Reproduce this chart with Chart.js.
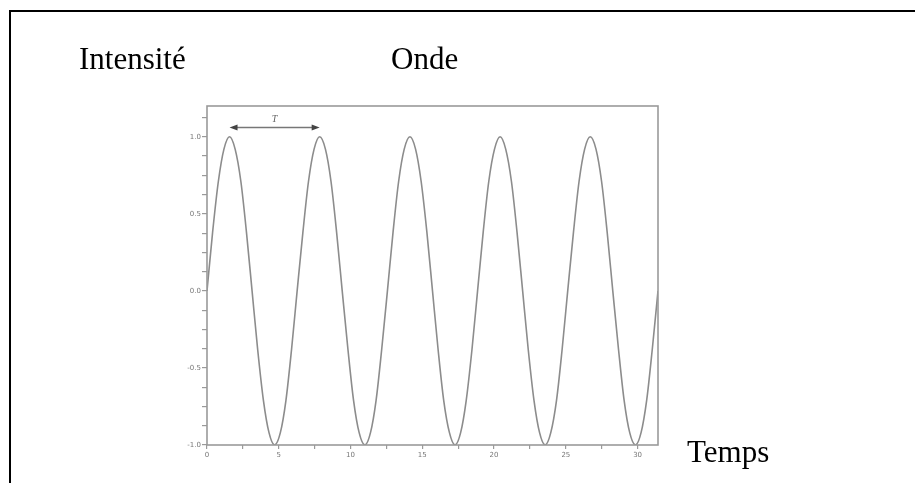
<!DOCTYPE html>
<html>
<head>
<meta charset="utf-8">
<title>Onde</title>
<script src="https://cdn.jsdelivr.net/npm/chart.js@4/dist/chart.umd.min.js"></script>
<style>
  html, body { margin: 0; padding: 0; background: #fff; overflow: hidden; }
  #page { position: relative; width: 915px; height: 483px; }
  #frame { position: absolute; left: 9px; top: 10px; width: 1000px; height: 1000px; border: 2px solid #000; }
  .label { position: absolute; font-family: "Liberation Serif", "Times New Roman", serif; font-size: 31px; line-height: 1; color: #000; white-space: nowrap; }
  canvas { position: absolute; left: 0; top: 0; }
</style>
</head>
<body>
<div id="page">
  <div id="frame"></div>
  <canvas id="wave" width="915" height="483"></canvas>
  <div class="label" style="left:79px; top:43px;">Intensité</div>
  <div class="label" style="left:391px; top:43px;">Onde</div>
  <div class="label" style="left:687px; top:436px;">Temps</div>
</div>
<script>
'use strict'

// ---------- data ----------
var timeValues = [
  0.00, 0.39, 0.79, 1.18, 1.57, 1.96, 2.36, 2.75, 3.14, 3.53, 3.93, 4.32, 4.71, 5.11, 5.50, 5.89,
  6.28, 6.68, 7.07, 7.46, 7.85, 8.25, 8.64, 9.03, 9.42, 9.82, 10.21, 10.60, 11.00, 11.39, 11.78, 12.17,
  12.57, 12.96, 13.35, 13.74, 14.14, 14.53, 14.92, 15.32, 15.71, 16.10, 16.49, 16.89, 17.28, 17.67, 18.06, 18.46,
  18.85, 19.24, 19.63, 20.03, 20.42, 20.81, 21.21, 21.60, 21.99, 22.38, 22.78, 23.17, 23.56, 23.95, 24.35, 24.74,
  25.13, 25.53, 25.92, 26.31, 26.70, 27.10, 27.49, 27.88, 28.27, 28.67, 29.06, 29.45, 29.85, 30.24, 30.63, 31.02,
  31.42
];
var intensityValues = [
  0, 0.38, 0.71, 0.92, 1, 0.92, 0.71, 0.38, 0, -0.38, -0.71, -0.92, -1, -0.92, -0.71, -0.38,
  0, 0.38, 0.71, 0.92, 1, 0.92, 0.71, 0.38, 0, -0.38, -0.71, -0.92, -1, -0.92, -0.71, -0.38,
  0, 0.38, 0.71, 0.92, 1, 0.92, 0.71, 0.38, 0, -0.38, -0.71, -0.92, -1, -0.92, -0.71, -0.38,
  0, 0.38, 0.71, 0.92, 1, 0.92, 0.71, 0.38, 0, -0.38, -0.71, -0.92, -1, -0.92, -0.71, -0.38,
  0, 0.38, 0.71, 0.92, 1, 0.92, 0.71, 0.38, 0, -0.38, -0.71, -0.92, -1, -0.92, -0.71, -0.38,
  0
];

var xMajorTicks = [0, 5, 10, 15, 20, 25, 30];
var xMinorTicks = [2.5, 7.5, 12.5, 17.5, 22.5, 27.5];
var yMajorTicks = [-1.0, -0.5, 0.0, 0.5, 1.0];
var yMinorTicks = [-0.875, -0.75, -0.625, -0.375, -0.25, -0.125, 0.125, 0.25, 0.375, 0.625, 0.75, 0.875, 1.125];

// period marker (T) between two crests
var periodStart = 1.57;
var periodEnd = 7.85;
var periodLevel = 1.06;

var axisGrey = '#9a9a9a';
var curveGrey = '#8c8c8c';

var points = [];
for (let i = 0; i < timeValues.length; i++) {
  points.push({ x: timeValues[i], y: intensityValues[i] });
}

function tickList(major, minor) {
  return major.concat(minor).sort(function(a, b) { return a - b; }).map(function(v) { return { value: v }; });
}

//----------- frame + period arrow -----------//
var decorations = {
  id: 'decorations',
  afterDatasetsDraw: function(chart) {
    let ctx = chart.ctx;
    let area = chart.chartArea;
    let xs = chart.scales.x;
    let ys = chart.scales.y;

    ctx.save();
    ctx.strokeStyle = axisGrey;
    ctx.lineWidth = 1.6;
    ctx.strokeRect(area.left, area.top, area.right - area.left, area.bottom - area.top);

    let x1 = xs.getPixelForValue(periodStart);
    let x2 = xs.getPixelForValue(periodEnd);
    let y = ys.getPixelForValue(periodLevel);
    ctx.strokeStyle = '#777';
    ctx.fillStyle = '#444';
    ctx.lineWidth = 1.5;
    ctx.beginPath();
    ctx.moveTo(x1 + 4, y);
    ctx.lineTo(x2 - 4, y);
    ctx.stroke();
    ctx.beginPath();
    ctx.moveTo(x1, y); ctx.lineTo(x1 + 8, y - 3); ctx.lineTo(x1 + 8, y + 3); ctx.closePath();
    ctx.moveTo(x2, y); ctx.lineTo(x2 - 8, y - 3); ctx.lineTo(x2 - 8, y + 3); ctx.closePath();
    ctx.fill();

    ctx.fillStyle = '#666';
    ctx.font = 'italic 10px "Liberation Serif", serif';
    ctx.textAlign = 'center';
    ctx.textBaseline = 'bottom';
    ctx.fillText('T', (x1 + x2) / 2, y - 3);
    ctx.restore();
  }
};

//----------- chart -----------//
var ctx = document.getElementById('wave').getContext('2d');
var waveChart = new Chart(ctx, {
  type: 'line',
  data: {
    datasets: [{
      data: points,
      borderColor: curveGrey,
      borderWidth: 1.6,
      pointRadius: 0,
      fill: false,
      cubicInterpolationMode: 'monotone'
    }]
  },
  options: {
    responsive: false,
    animation: false,
    devicePixelRatio: 1,
    layout: { padding: { left: 0, top: 106, right: 257, bottom: 0 } },
    plugins: { legend: { display: false }, tooltip: { enabled: false } },
    scales: {
      x: {
        type: 'linear',
        min: 0,
        max: 31.42,
        afterFit: function(scale) { scale.height = 38; },
        afterBuildTicks: function(scale) { scale.ticks = tickList(xMajorTicks, xMinorTicks); },
        grid: { drawOnChartArea: false, drawTicks: true, tickLength: 4, color: axisGrey, lineWidth: 1.2 },
        border: { display: false },
        ticks: {
          autoSkip: false,
          maxRotation: 0,
          padding: 2,
          color: '#777',
          font: { family: 'DejaVu Sans', size: 7 },
          callback: function(v) { return xMajorTicks.indexOf(v) >= 0 ? String(v) : ''; }
        }
      },
      y: {
        type: 'linear',
        min: -1.0,
        max: 1.2,
        afterFit: function(scale) { scale.width = 207; },
        afterBuildTicks: function(scale) { scale.ticks = tickList(yMajorTicks, yMinorTicks); },
        grid: { drawOnChartArea: false, drawTicks: true, tickLength: 5, color: axisGrey, lineWidth: 1.2 },
        border: { display: false },
        ticks: {
          autoSkip: false,
          padding: 1,
          color: '#777',
          font: { family: 'DejaVu Sans', size: 7 },
          callback: function(v) { return yMajorTicks.indexOf(v) >= 0 ? v.toFixed(1) : ''; }
        }
      }
    }
  },
  plugins: [decorations]
});
</script>
</body>
</html>
